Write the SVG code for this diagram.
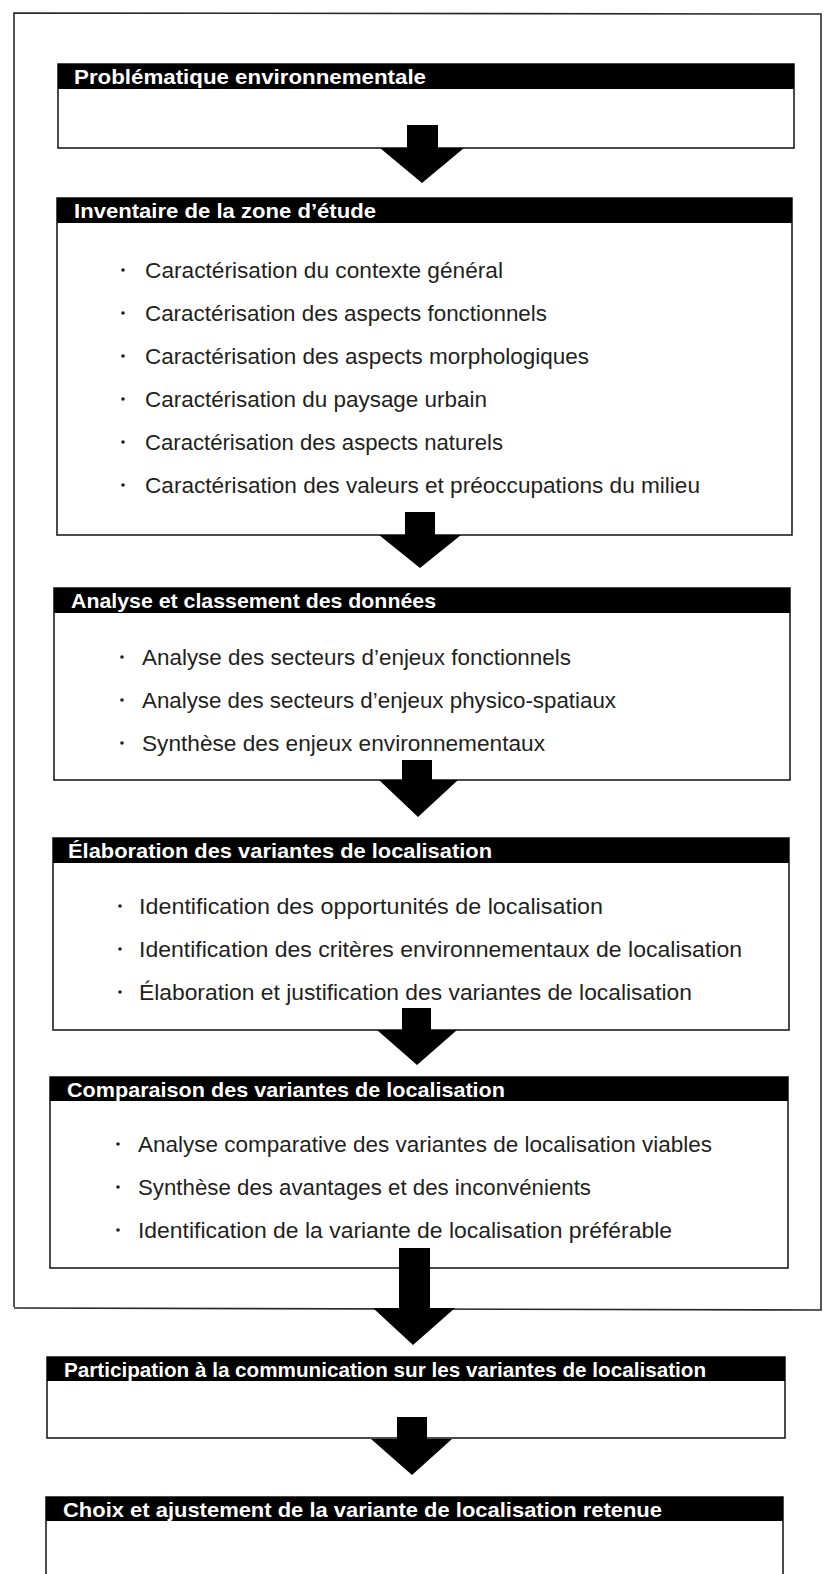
<svg xmlns="http://www.w3.org/2000/svg" width="826" height="1574" viewBox="0 0 826 1574">
<style>
.frame{fill:none;stroke:#2a2a2a;stroke-width:1.6}
.box{fill:#fff;stroke:#1e1e1e;stroke-width:1.6}
.band{fill:#000}
.hd{font-family:"Liberation Sans",Arial,sans-serif;font-weight:bold;font-size:21px;fill:#fff}
.tx{font-family:"Liberation Sans",Arial,sans-serif;font-size:22px;fill:#231f20}
.dot{fill:#231f20}
.arrow{fill:#000}
</style>
<rect width="826" height="1574" fill="#fff"/>
<polyline class="frame" points="14,1307 14,13 821,14 821,1310 14,1308"/>

<g id="node-problematique">
<rect class="box" x="58" y="64" width="736" height="84"/>
<rect class="band" x="58" y="64" width="736" height="25"/>
<text class="hd" x="74" y="84" textLength="352" lengthAdjust="spacingAndGlyphs">Problématique environnementale</text>
</g>

<g id="node-inventaire">
<rect class="box" x="57" y="198" width="735" height="337"/>
<rect class="band" x="57" y="198" width="735" height="25"/>
<text class="hd" x="74" y="218" textLength="302" lengthAdjust="spacingAndGlyphs">Inventaire de la zone d’étude</text>
<circle class="dot" cx="123" cy="270" r="1.8"/>
<text class="tx" x="145" y="278" textLength="358" lengthAdjust="spacingAndGlyphs">Caractérisation du contexte général</text>
<circle class="dot" cx="123" cy="313" r="1.8"/>
<text class="tx" x="145" y="321" textLength="402" lengthAdjust="spacingAndGlyphs">Caractérisation des aspects fonctionnels</text>
<circle class="dot" cx="123" cy="356" r="1.8"/>
<text class="tx" x="145" y="364" textLength="444" lengthAdjust="spacingAndGlyphs">Caractérisation des aspects morphologiques</text>
<circle class="dot" cx="123" cy="399" r="1.8"/>
<text class="tx" x="145" y="407" textLength="342" lengthAdjust="spacingAndGlyphs">Caractérisation du paysage urbain</text>
<circle class="dot" cx="123" cy="442" r="1.8"/>
<text class="tx" x="145" y="450" textLength="358" lengthAdjust="spacingAndGlyphs">Caractérisation des aspects naturels</text>
<circle class="dot" cx="123" cy="485" r="1.8"/>
<text class="tx" x="145" y="493" textLength="555" lengthAdjust="spacingAndGlyphs">Caractérisation des valeurs et préoccupations du milieu</text>
</g>

<g id="node-analyse">
<rect class="box" x="54" y="588" width="736" height="192"/>
<rect class="band" x="54" y="588" width="736" height="25"/>
<text class="hd" x="71" y="608" textLength="365" lengthAdjust="spacingAndGlyphs">Analyse et classement des données</text>
<circle class="dot" cx="122" cy="657" r="1.8"/>
<text class="tx" x="142" y="665" textLength="429" lengthAdjust="spacingAndGlyphs">Analyse des secteurs d’enjeux fonctionnels</text>
<circle class="dot" cx="122" cy="700" r="1.8"/>
<text class="tx" x="142" y="708" textLength="474" lengthAdjust="spacingAndGlyphs">Analyse des secteurs d’enjeux physico-spatiaux</text>
<circle class="dot" cx="122" cy="743" r="1.8"/>
<text class="tx" x="142" y="751" textLength="403" lengthAdjust="spacingAndGlyphs">Synthèse des enjeux environnementaux</text>
</g>

<g id="node-elaboration">
<rect class="box" x="53" y="838" width="736" height="192"/>
<rect class="band" x="53" y="838" width="736" height="25"/>
<text class="hd" x="68" y="858" textLength="424" lengthAdjust="spacingAndGlyphs">Élaboration des variantes de localisation</text>
<circle class="dot" cx="120" cy="906" r="1.8"/>
<text class="tx" x="139" y="914" textLength="464" lengthAdjust="spacingAndGlyphs">Identification des opportunités de localisation</text>
<circle class="dot" cx="120" cy="949" r="1.8"/>
<text class="tx" x="139" y="957" textLength="603" lengthAdjust="spacingAndGlyphs">Identification des critères environnementaux de localisation</text>
<circle class="dot" cx="120" cy="992" r="1.8"/>
<text class="tx" x="139" y="1000" textLength="553" lengthAdjust="spacingAndGlyphs">Élaboration et justification des variantes de localisation</text>
</g>

<g id="node-comparaison">
<rect class="box" x="50" y="1077" width="738" height="191"/>
<rect class="band" x="50" y="1077" width="738" height="24"/>
<text class="hd" x="67" y="1097" textLength="438" lengthAdjust="spacingAndGlyphs">Comparaison des variantes de localisation</text>
<circle class="dot" cx="118" cy="1144" r="1.8"/>
<text class="tx" x="138" y="1152" textLength="574" lengthAdjust="spacingAndGlyphs">Analyse comparative des variantes de localisation viables</text>
<circle class="dot" cx="118" cy="1187" r="1.8"/>
<text class="tx" x="138" y="1195" textLength="453" lengthAdjust="spacingAndGlyphs">Synthèse des avantages et des inconvénients</text>
<circle class="dot" cx="118" cy="1230" r="1.8"/>
<text class="tx" x="138" y="1238" textLength="534" lengthAdjust="spacingAndGlyphs">Identification de la variante de localisation préférable</text>
</g>

<g id="node-participation">
<rect class="box" x="47" y="1357" width="738" height="81"/>
<rect class="band" x="47" y="1357" width="738" height="24"/>
<text class="hd" x="64" y="1377" textLength="642" lengthAdjust="spacingAndGlyphs">Participation à la communication sur les variantes de localisation</text>
</g>

<g id="node-choix">
<rect class="box" x="46" y="1497" width="737" height="90"/>
<rect class="band" x="46" y="1497" width="737" height="24"/>
<text class="hd" x="63" y="1517" textLength="599" lengthAdjust="spacingAndGlyphs">Choix et ajustement de la variante de localisation retenue</text>
</g>

<g id="connectors">
<polygon class="arrow" points="407,125 438,125 438,148 464,148 422,183 380,148 407,148"/>
<polygon class="arrow" points="405,512 435,512 435,535 461,535 420,568 379,535 405,535"/>
<polygon class="arrow" points="402,760 432,760 432,780 458,780 418,817 379,780 402,780"/>
<polygon class="arrow" points="402,1008 431,1008 431,1030 457,1030 417,1065 377,1030 402,1030"/>
<polygon class="arrow" points="399,1248 430,1248 430,1308 455,1308 413,1345 373,1308 399,1308"/>
<polygon class="arrow" points="397,1417 427,1417 427,1439 452,1439 412,1475 371,1439 397,1439"/>
</g>
</svg>
